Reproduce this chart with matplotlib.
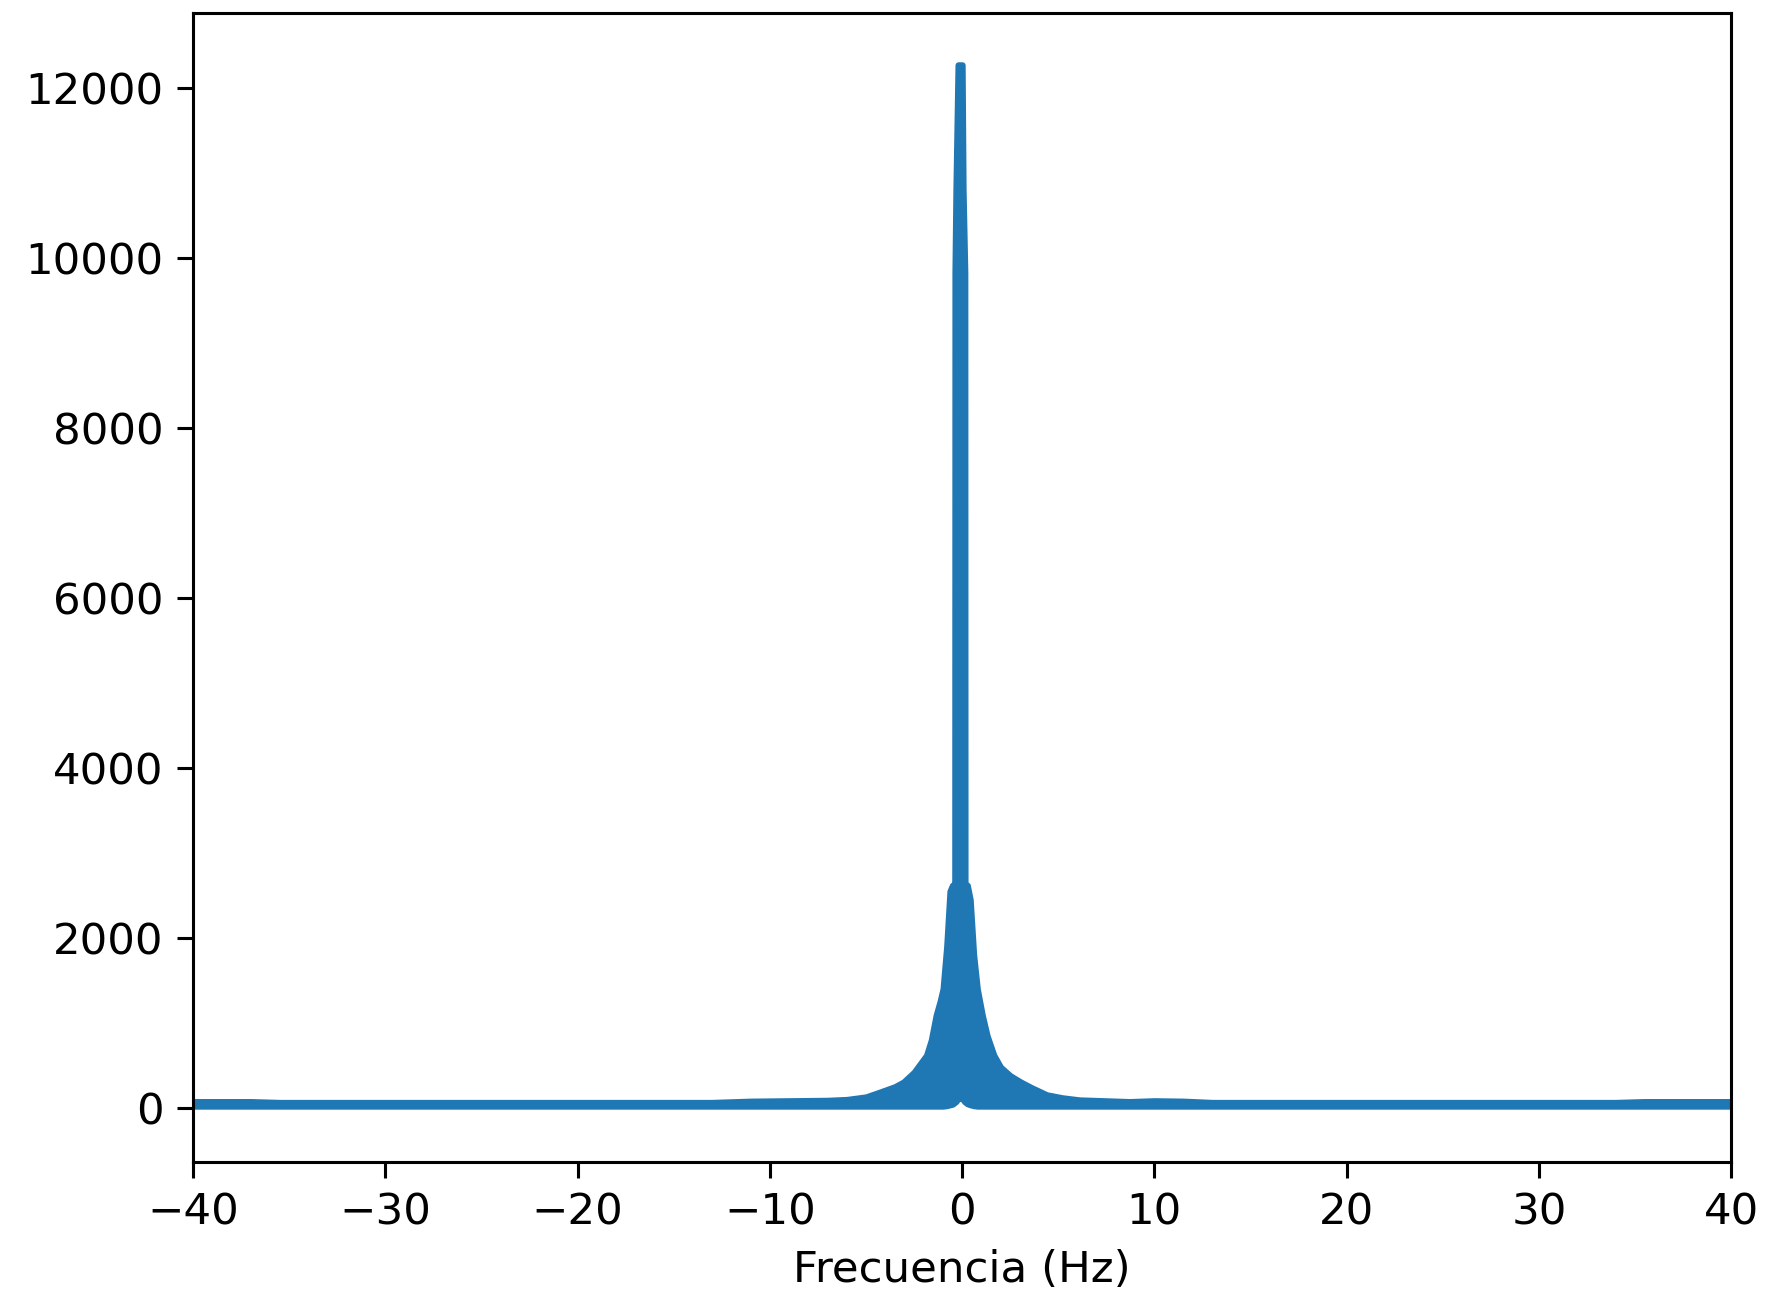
import matplotlib
matplotlib.use("Agg")
import matplotlib.pyplot as plt
import numpy as np

# Magnitude spectrum envelope (Hz, |X(f)|): upper and lower bounds of the dense FFT trace
freq = [-40, -37, -35.5, -13, -11, -9, -7, -6, -5, -4.3, -3.5, -3.05, -2.5, -1.85,
        -1.6, -1.35, -1.15, -0.99, -0.8, -0.63, -0.5, -0.38, -0.37, -0.32, -0.21,
        0.0, 0.05, 0.14, 0.15, 0.27, 0.42, 0.6, 0.79, 1.05, 1.3, 1.65, 2.0, 2.5,
        3.05, 3.6, 4.4, 5.2, 6.1, 8.7, 10, 11.5, 13, 34, 35.5, 40]
upper = [75, 75, 65, 65, 80, 85, 90, 100, 130, 185, 250, 305, 420, 620,
         800, 1090, 1250, 1400, 1900, 2550, 2620, 2620, 9830, 10800, 12270,
         12270, 10800, 9830, 2620, 2620, 2450, 1800, 1400, 1090, 850, 620, 480, 380,
         305, 240, 155, 120, 95, 75, 85, 80, 65, 65, 75, 75]

low_freq = [-40, -0.9, -0.5, -0.3, -0.1, 0.1, 0.3, 0.7, 40]
low_vals = [22, 22, 45, 80, 155, 80, 45, 22, 22]

xticks = [-40, -30, -20, -10, 0, 10, 20, 30, 40]
yticks = [0, 2000, 4000, 6000, 8000, 10000, 12000]

f_all = np.array(freq, dtype=float)
lower = np.interp(f_all, low_freq, low_vals)

fig = plt.figure(figsize=(1771 / 277, 1299 / 277), dpi=277)
ax = fig.add_axes([0.1090, 0.1055, 0.8685, 0.8845])

color = "#1f77b4"
ax.fill_between(f_all, lower, upper, facecolor=color, edgecolor=color,
                linewidth=1.6)

ax.set_xlim(-40, 40)
ax.set_ylim(-635, 12880)
ax.set_xticks(xticks)
ax.set_yticks(yticks)
ax.tick_params(labelsize=11.3, length=4.1)
ax.set_xlabel("Frecuencia (Hz)", fontsize=11.3)

fig.savefig("out.png", dpi=277)
